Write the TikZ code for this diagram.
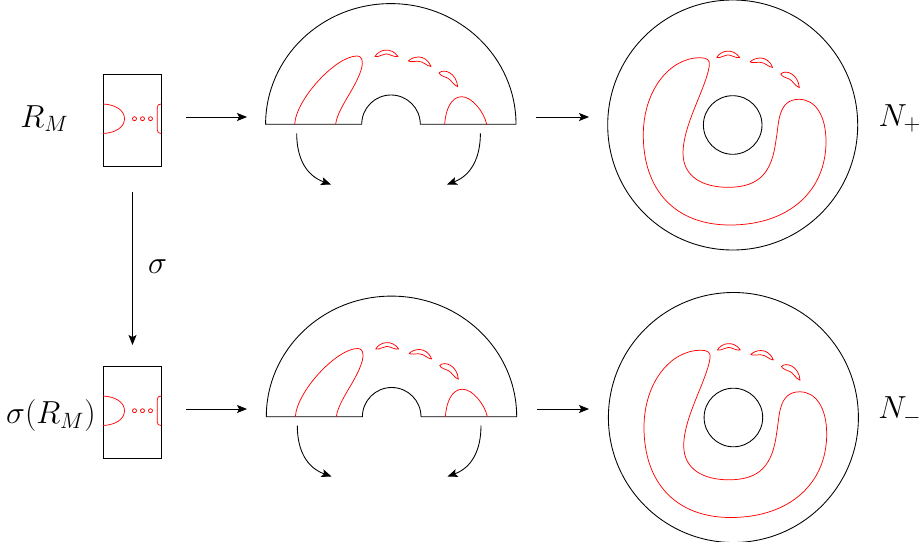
\documentclass[tikz,border=0pt]{standalone}
\usepackage{graphicx}
\usetikzlibrary{arrows.meta}
\tikzset{
  redc/.style={draw=red,line width=0.55pt,line join=round},
  blk/.style={draw=black,line width=0.65pt},
  arr/.style={draw=black,line width=0.65pt,-{Stealth[length=7.5pt,width=6pt,inset=1.6pt]}},
  lab/.style={inner sep=0pt,font=\LARGE},
}
\newcommand{\lbl}[1]{\scalebox{1.385}{$#1$}}
\newcommand{\sliverset}{%
  \draw[redc] (375,56.5) .. controls (379,49.5) and (391,46.5) .. (398,56.5) .. controls (393,57.2) and (390,53.9) .. (386,53.9) .. controls (382,53.9) and (380,57.2) .. cycle;
  \draw[redc] (408.4,61) .. controls (412,57) and (425,52.5) .. (431,66.5) .. controls (426,66) and (424,61.3) .. (418,61.3) .. controls (414,61.3) and (410,62) .. cycle;
  \draw[redc] (439,73) .. controls (444,68) and (456.5,73) .. (457.7,86.7) .. controls (453,85) and (451,79.5) .. (447.5,78) .. controls (445,77) and (440,75.5) .. cycle;
}
\newcommand{\rectpart}{%
  \draw[blk] (103,74.7) rectangle (161.3,166.5);
  \draw[redc] (103,104) .. controls (115,104.5) and (124.5,110) .. (124.5,118.7) .. controls (124.5,127.5) and (115,133) .. (103,133.5);
  \draw[redc] (161.3,104) .. controls (158.5,104) and (157.2,105) .. (157.2,108) -- (157.2,129.5) .. controls (157.2,132.5) and (158.5,133.5) .. (161.3,133.5);
  \foreach \x in {134.5,142.5,150.5} \draw[redc] (\x,118.7) circle (2);
}
\newcommand{\halfpart}{%
  \draw[blk] (265.6,124.3) arc[start angle=180,end angle=360,x radius=125.2,y radius=120.7] -- (420.3,124.3) arc[start angle=0,end angle=-180,radius=29.3] -- cycle;
  \draw[redc] (294.7,124.3) .. controls (296,99) and (336,56) .. (357,56) .. controls (364,56) and (363,66) .. (360,73) .. controls (354,90) and (337,110) .. (335.7,124.3);
  \draw[redc] (444.7,124.3) .. controls (445.5,110) and (451,96.7) .. (461.7,96.7) .. controls (472,96.7) and (484,112) .. (486.7,124.3);
  \sliverset
}
\newcommand{\fullpart}{%
  \draw[blk] (732.7,125) circle (125);
  \draw[blk] (732.7,125) circle (29.3);
  \draw[redc] (700,57.7) .. controls (707,57.7) and (710.5,60) .. (709.3,66)
    .. controls (706,88) and (683,125) .. (683,153)
    .. controls (683,177) and (703,187.3) .. (728,187.3)
    .. controls (760,187.3) and (772,172) .. (776,140)
    .. controls (779,125) and (777,99.3) .. (799,99.3)
    .. controls (815,99.3) and (826,115) .. (826,141.7)
    .. controls (826,190) and (790,225) .. (730,225)
    .. controls (675,225) and (643.3,190) .. (643.3,135)
    .. controls (643.3,90) and (670,57.7) .. cycle;
  \begin{scope}[shift={(341.7,1)}]
    \sliverset
  \end{scope}
}
\begin{document}
\begin{tikzpicture}[x=0.75pt,y=-0.75pt]
\useasboundingbox (0,0) rectangle (922,542);
\rectpart
\halfpart
\fullpart
\begin{scope}[shift={(0,292)}]
  \rectpart
\end{scope}
\begin{scope}[shift={(0.7,292.5)}]
  \halfpart
  \fullpart
\end{scope}
\node[lab] (rm) at (44.5,118.5) {\lbl{R_M}};
\node[lab] (srm) at (51,415.5) {\lbl{\sigma(R_M)}};
\node[lab] (sg) at (157.5,266.5) {\lbl{\sigma}};
\node[lab] (np) at (900,118.5) {\lbl{N_+}};
\node[lab] (nm) at (900,411) {\lbl{N_-}};
\coordinate (a1) at (186,117);
\coordinate (a2) at (247,117);
\coordinate (b1) at (536,117);
\coordinate (b2) at (589,117);
\coordinate (c1) at (186,409);
\coordinate (c2) at (247,409);
\coordinate (d1) at (537,409);
\coordinate (d2) at (589,409);
\coordinate (v1) at (132.5,192);
\coordinate (v2) at (132.5,345);
\coordinate (e1) at (296.7,133.3);
\coordinate (e2) at (331,184.5);
\coordinate (f1) at (480.4,133.3);
\coordinate (f2) at (447,184.5);
\coordinate (g1) at (297.3,425.5);
\coordinate (g2) at (331.5,476.5);
\coordinate (h1) at (481,425.5);
\coordinate (h2) at (447.5,476.5);
\draw[arr] (a1) -- (a2);
\draw[arr] (b1) -- (b2);
\draw[arr] (c1) -- (c2);
\draw[arr] (d1) -- (d2);
\draw[arr] (v1) -- (v2);
\draw[arr] (e1) .. controls (296.7,158) and (306,175.5) .. (e2);
\draw[arr] (f1) .. controls (480.4,158) and (471,175.5) .. (f2);
\draw[arr] (g1) .. controls (297.3,450) and (306.5,467.5) .. (g2);
\draw[arr] (h1) .. controls (481,450) and (472,467.5) .. (h2);
\end{tikzpicture}
\end{document}
